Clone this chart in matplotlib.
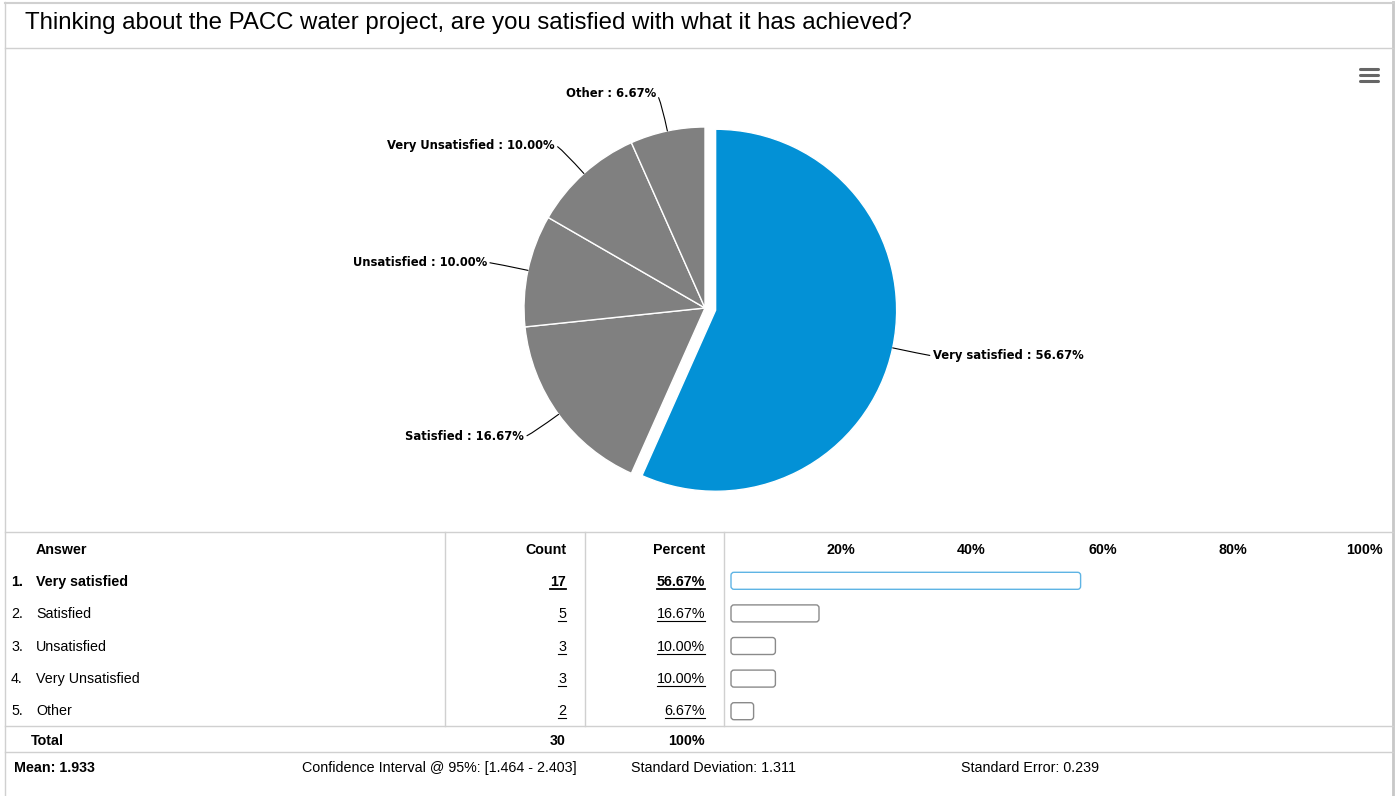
import numpy as np
import matplotlib
matplotlib.use("Agg")
import matplotlib.pyplot as plt
from matplotlib.patches import FancyBboxPatch
from matplotlib import transforms

# survey answers
answers = ["Very satisfied", "Satisfied", "Unsatisfied", "Very Unsatisfied", "Other"]
counts = [17, 5, 3, 3, 2]
pct_ticks = [20, 40, 60, 80, 100]

# summary statistics
mean_val = 1.933
ci_low, ci_high = 1.464, 2.403
std_dev = 1.311
std_err = 0.239

title = "Thinking about the PACC water project, are you satisfied with what it has achieved?"

total = sum(counts)
percents = [c / total * 100 for c in counts]

W, H = 1396, 796
BLUE = "#0391d6"
GRAY = "#808080"
LINE = "#d0d0d0"
FONT = "Liberation Sans"

fig = plt.figure(figsize=(W / 100, H / 100), dpi=100)

# pixel-space overlay for frame, text and grid
px = fig.add_axes([0, 0, 1, 1])
px.set_xlim(0, W)
px.set_ylim(H, 0)
px.axis("off")


def rect(x0, y0, w, h):
    return [x0 / W, 1 - (y0 + h) / H, w / W, h / H]


# frame + title box
px.plot([5, 5], [2, 796], color=LINE, lw=1)
px.plot([1393, 1393], [2, 796], color="#c8c8c8", lw=2)
px.plot([5, 1393], [2.5, 2.5], color=LINE, lw=1.5)
px.plot([5, 1393], [48, 48], color=LINE, lw=1)
px.text(25, 23, title, fontsize=17.3, family=FONT, va="center", ha="left")

# menu icon
for yy in (69, 75, 81):
    px.plot([1360, 1378], [yy, yy], color="#666666", lw=2.2, solid_capstyle="round")

# pie
cx, cy, R, k = 705, 308, 181, 1.25
ax_pie = fig.add_axes(rect(cx - R * k, cy - R * k, 2 * R * k, 2 * R * k))
colors = [BLUE] + [GRAY] * (len(answers) - 1)
explode = [0.06] + [0] * (len(answers) - 1)
wedges, _ = ax_pie.pie(counts, colors=colors, explode=explode, startangle=90,
                       counterclock=False,
                       wedgeprops=dict(edgecolor="white", linewidth=1))
ax_pie.set_xlim(-k, k)
ax_pie.set_ylim(-k, k)
ax_pie.set_aspect("equal")

for w, name, p in zip(wedges, answers, percents):
    ang = (w.theta1 + w.theta2) / 2
    a = np.deg2rad(ang)
    wx, wy = w.center
    edge = (wx + np.cos(a), wy + np.sin(a))
    end = (wx + 1.21 * np.cos(a), wy + 1.21 * np.sin(a))
    right = np.cos(a) >= 0
    gap = 0.015 if right else -0.02
    ax_pie.annotate(f"{name} : {p:.2f}%", xy=edge, xytext=(end[0] + gap, end[1]),
                    ha="left" if right else "right", va="center",
                    fontsize=9.3, fontweight="bold", family="DejaVu Sans",
                    fontstretch="condensed",
                    arrowprops=dict(arrowstyle="-", color="black", lw=0.8,
                                    shrinkA=0, shrinkB=0,
                                    relpos=(0, 0.5) if right else (1, 0.5),
                                    connectionstyle=f"angle3,angleA=0,angleB={ang}"))

# table grid
px.plot([5, 1393], [532, 532], color=LINE, lw=1)
px.plot([5, 1393], [726, 726], color=LINE, lw=1)
px.plot([5, 1393], [752, 752], color=LINE, lw=1)
for xv in (445, 585, 724):
    px.plot([xv, xv], [532, 726], color=LINE, lw=1)

fs = 10.3
head_y = 554
px.text(36, head_y, "Answer", fontsize=fs, family=FONT, weight="bold", va="baseline")
px.text(566, head_y, "Count", fontsize=fs, family=FONT, weight="bold", va="baseline", ha="right")
px.text(705, head_y, "Percent", fontsize=fs, family=FONT, weight="bold", va="baseline", ha="right")

underlined = []
row0, step = 586, 32.3
for i, (name, c, p) in enumerate(zip(answers, counts, percents)):
    y = row0 + step * i
    wt = "bold" if i == 0 else "normal"
    px.text(11, y, f"{i + 1}.", fontsize=fs, family=FONT, weight=wt, va="baseline")
    px.text(36, y, name, fontsize=fs, family=FONT, weight=wt, va="baseline")
    t1 = px.text(566, y, f"{c}", fontsize=fs, family=FONT, weight=wt, va="baseline", ha="right")
    t2 = px.text(705, y, f"{p:.2f}%", fontsize=fs, family=FONT, weight=wt, va="baseline", ha="right")
    underlined += [(t1, y, 1.3 if i == 0 else 0.8), (t2, y, 1.3 if i == 0 else 0.8)]

tot_y = 745
px.text(31, tot_y, "Total", fontsize=fs, family=FONT, weight="bold", va="baseline")
px.text(566, tot_y, f"{total}", fontsize=fs, family=FONT, weight="bold", va="baseline", ha="right")
px.text(705, tot_y, f"{sum(percents):.0f}%", fontsize=fs, family=FONT, weight="bold", va="baseline", ha="right")

foot_y = 772
px.text(14, foot_y, f"Mean: {mean_val:.3f}", fontsize=fs, family=FONT, weight="bold", va="baseline")
px.text(302, foot_y, f"Confidence Interval @ 95%: [{ci_low:.3f} - {ci_high:.3f}]",
        fontsize=fs, family=FONT, va="baseline")
px.text(631, foot_y, f"Standard Deviation: {std_dev:.3f}", fontsize=fs, family=FONT, va="baseline")
px.text(961, foot_y, f"Standard Error: {std_err:.3f}", fontsize=fs, family=FONT, va="baseline")

# percent bars
bx0, bx1 = 710, 1364
by0, by1 = 564.5, 727.5
ax_bar = fig.add_axes(rect(bx0, by0, bx1 - bx0, by1 - by0))
ax_bar.set_xlim(0, 100)
ax_bar.set_ylim(len(answers) - 0.5, -0.5)
ax_bar.axis("off")
x_per_px = 100 / (bx1 - bx0)
y_per_px = len(answers) / (by1 - by0)
bar_left = 21 * x_per_px
bar_h = 17 * y_per_px
for i, p in enumerate(percents):
    ec = "#5fb4e4" if i == 0 else "#8a8a8a"
    box = FancyBboxPatch((bar_left, i - bar_h / 2), p - bar_left, bar_h,
                         boxstyle=f"round,pad=0,rounding_size={3 * x_per_px}",
                         mutation_aspect=y_per_px / x_per_px,
                         facecolor="white", edgecolor=ec, lw=1)
    ax_bar.add_patch(box)

tick_tr = transforms.blended_transform_factory(ax_bar.transData, px.transData)
for t in pct_ticks:
    px.text(t, head_y, f"{t}%", transform=tick_tr, fontsize=fs, family=FONT,
            weight="bold", va="baseline", ha="center")

# underline the linked numbers
fig.canvas.draw()
inv = px.transData.inverted()
for t, y, lw in underlined:
    bb = t.get_window_extent()
    x0 = inv.transform((bb.x0, bb.y0))[0]
    x1 = inv.transform((bb.x1, bb.y0))[0]
    px.plot([x0, x1], [y + 3, y + 3], color="black", lw=lw)

fig.savefig("out.png", dpi=100)
